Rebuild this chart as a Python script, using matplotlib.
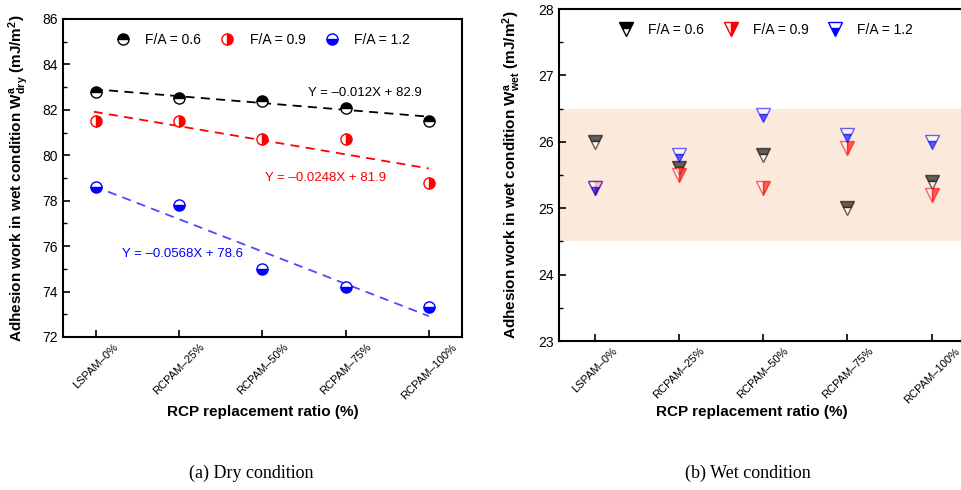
import matplotlib
matplotlib.use("Agg")
import matplotlib.pyplot as plt
from matplotlib.lines import Line2D
import numpy as np

plt.rcParams['font.family'] = ['Liberation Sans', 'DejaVu Sans']
plt.rcParams['mathtext.fontset'] = 'custom'
plt.rcParams['mathtext.rm'] = 'Liberation Sans'
plt.rcParams['mathtext.it'] = 'Liberation Sans:italic'
plt.rcParams['mathtext.bf'] = 'Liberation Sans:bold'

categories = ["LSPAM–0%", "RCPAM–25%", "RCPAM–50%", "RCPAM–75%", "RCPAM–100%"]
replacement = [0, 25, 50, 75, 100]
series_labels = ["F/A = 0.6", "F/A = 0.9", "F/A = 1.2"]

dry_06 = [82.8, 82.5, 82.4, 82.1, 81.5]
dry_09 = [81.5, 81.5, 80.7, 80.7, 78.8]
dry_12 = [78.6, 77.8, 75.0, 74.2, 73.3]
fit_slopes = [-0.012, -0.0248, -0.0568]
fit_intercepts = [82.9, 81.9, 78.6]
fit_labels = ["Y = –0.012X + 82.9", "Y = –0.0248X + 81.9", "Y = –0.0568X + 78.6"]

wet_06 = [26.0, 25.6, 25.8, 25.0, 25.4]
wet_09 = [25.3, 25.5, 25.3, 25.9, 25.2]
wet_12 = [25.3, 25.8, 26.4, 26.1, 26.0]
band_low, band_high = 24.5, 26.5

colors = ["black", "red", "blue"]
line_colors = ["black", "red", "#4a4aff"]
dry_fill = ["top", "right", "bottom"]
wet_fill = ["top", "right", "bottom"]

fig = plt.figure(figsize=(9.62, 4.90), dpi=100)
W, H = 962, 490

def axrect(l, t, r, b):
    return [l / W, 1 - b / H, (r - l) / W, (b - t) / H]

ax1 = fig.add_axes(axrect(63, 19, 462, 337))
ax2 = fig.add_axes(axrect(559, 9, 967, 341))

x = np.arange(len(categories))

# ---- Dry panel ----
dry = [dry_06, dry_09, dry_12]
xx = np.array([-0.03, 4.0])
for i in range(3):
    ax1.plot(xx, fit_slopes[i] * (xx * 25) + fit_intercepts[i], ls=(0, (5, 3.5)),
             color=line_colors[i], lw=1.3, zorder=2)
    ax1.plot(x, dry[i], ls='none', marker='o', markersize=8, fillstyle=dry_fill[i],
             color=colors[i], markerfacecoloralt='white', markeredgecolor=colors[i],
             markeredgewidth=1.0, zorder=3)

ax1.text(2.55, 82.75, fit_labels[0], color='black', fontsize=9.5, ha='left', va='center')
ax1.text(2.03, 79.0, fit_labels[1], color='red', fontsize=9.5, ha='left', va='center')
ax1.text(0.31, 75.66, fit_labels[2], color='blue', fontsize=9.5, ha='left', va='center')

ax1.set_xlim(-0.4, 4.4)
ax1.set_ylim(72, 86)
ax1.set_yticks(np.arange(72, 87, 2))
ax1.set_yticks(np.arange(73, 86, 2), minor=True)
ax1.set_xticks(x)
ax1.set_xticklabels(categories, rotation=45, ha='center', fontsize=8)
ax1.set_ylabel(r"Adhesion work in wet condition $\mathbf{W^a_{dry}}$ (mJ/m$^\mathbf{2}$)",
               fontsize=11, fontweight='bold')
ax1.yaxis.set_label_coords(-(63 - 31) / 399, 0.5)
ax1.set_xlabel("RCP replacement ratio (%)", fontsize=11, fontweight='bold')
ax1.xaxis.set_label_coords(0.5, -(405 - 337) / 318)

h1 = [Line2D([], [], ls='none', marker='o', markersize=8, fillstyle=dry_fill[i],
             color=colors[i], markerfacecoloralt='white', markeredgecolor=colors[i])
      for i in range(3)]
ax1.legend(h1, series_labels, ncol=3, loc='upper center', bbox_to_anchor=(0.4925, 0.995),
           frameon=False, fontsize=10, handletextpad=0.6, columnspacing=0.9)

# ---- Wet panel ----
ax2.axhspan(band_low, band_high, color='#fbe9dc', lw=0, zorder=0)
wet = [wet_06, wet_09, wet_12]
for i in range(3):
    ax2.plot(x, wet[i], ls='none', marker='v', markersize=10, fillstyle=wet_fill[i],
             color=colors[i], markerfacecoloralt='white', markeredgecolor=colors[i],
             markeredgewidth=1.0, alpha=0.6, zorder=3)

ax2.set_xlim(-0.426, 4.42)
ax2.set_ylim(23, 28)
ax2.set_yticks(np.arange(23, 29, 1))
ax2.set_yticks(np.arange(23.5, 28, 1), minor=True)
ax2.set_xticks(x)
ax2.set_xticklabels(categories, rotation=45, ha='center', fontsize=8)
ax2.set_ylabel(r"Adhesion work in wet condition $\mathbf{W^a_{wet}}$ (mJ/m$^\mathbf{2}$)",
               fontsize=11, fontweight='bold')
ax2.yaxis.set_label_coords(-(559 - 523) / 408, 0.5)
ax2.set_xlabel("RCP replacement ratio (%)", fontsize=11, fontweight='bold')
ax2.xaxis.set_label_coords((752 - 559) / 408, -(405 - 341) / 332)

h2 = [Line2D([], [], ls='none', marker='v', markersize=10, fillstyle=wet_fill[i],
             color=colors[i], markerfacecoloralt='white', markeredgecolor=colors[i])
      for i in range(3)]
ax2.legend(h2, series_labels, ncol=3, loc='upper center', bbox_to_anchor=(0.499, 0.995),
           frameon=False, fontsize=10, handletextpad=0.6, columnspacing=0.9)

for ax in (ax1, ax2):
    ax.tick_params(axis='both', which='major', direction='in', length=5, width=1.2, labelsize=10)
    ax.tick_params(axis='x', labelsize=8)
    ax.tick_params(axis='y', which='minor', direction='in', length=3, width=1.0)
    ax.tick_params(axis='x', which='minor', bottom=False)
    for s in ax.spines.values():
        s.set_linewidth(1.5)

fig.text(251 / W, 1 - 473 / H, "(a) Dry condition", family='Liberation Serif',
         fontsize=13, ha='center', va='center')
fig.text(748 / W, 1 - 473 / H, "(b) Wet condition", family='Liberation Serif',
         fontsize=13, ha='center', va='center')

fig.savefig("out.png", dpi=100)
